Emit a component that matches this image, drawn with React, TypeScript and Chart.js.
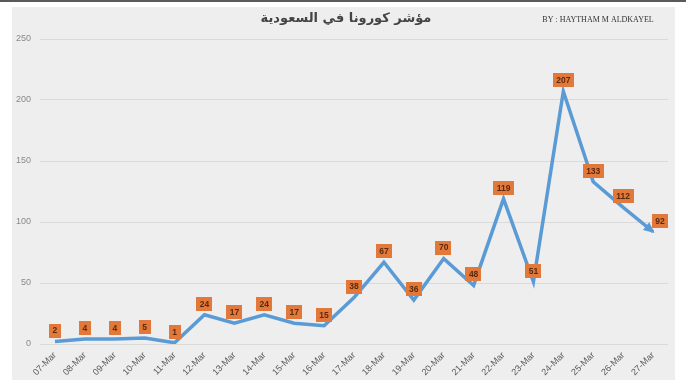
import React, { useEffect, useRef } from "react";
import { Chart, registerables } from "chart.js";

Chart.register(...registerables);

const categories = [
  "07-Mar", "08-Mar", "09-Mar", "10-Mar", "11-Mar", "12-Mar", "13-Mar",
  "14-Mar", "15-Mar", "16-Mar", "17-Mar", "18-Mar", "19-Mar", "20-Mar",
  "21-Mar", "22-Mar", "23-Mar", "24-Mar", "25-Mar", "26-Mar", "27-Mar",
];
const cases = [2, 4, 4, 5, 1, 24, 17, 24, 17, 15, 38, 67, 36, 70, 48, 119, 51, 207, 133, 112, 92];
const yTicks = [0, 50, 100, 150, 200, 250];
const titleText = "مؤشر كورونا في السعودية";
const authorText = "BY : HAYTHAM M ALDKAYEL";

const LINE_COLOR = "#5b9bd5";
const LABEL_BG = "#e2793a";
const LABEL_FG = "#5a2a0c";

const panelPlugin = {
  id: "panel",
  beforeDraw(chart: any) {
    const ctx = chart.ctx;
    ctx.save();
    ctx.fillStyle = "#ffffff";
    ctx.fillRect(0, 0, chart.width, chart.height);
    ctx.fillStyle = "#5a5a5a";
    ctx.fillRect(0, 0, chart.width, 2);
    ctx.fillStyle = "#eeeeee";
    ctx.fillRect(12, 7, 663, 373);
    ctx.restore();
  },
};

const labelsPlugin = {
  id: "boxLabels",
  afterDatasetsDraw(chart: any) {
    const ctx = chart.ctx;
    const meta = chart.getDatasetMeta(0);
    const pts = meta.data;
    ctx.save();
    const n = pts.length;
    if (n > 1) {
      const a = pts[n - 2];
      const b = pts[n - 1];
      const ang = Math.atan2(b.y - a.y, b.x - a.x);
      const L = 9;
      const W = 5;
      ctx.fillStyle = LINE_COLOR;
      ctx.beginPath();
      ctx.moveTo(b.x + Math.cos(ang) * 2, b.y + Math.sin(ang) * 2);
      ctx.lineTo(
        b.x - Math.cos(ang) * L + Math.cos(ang + Math.PI / 2) * W,
        b.y - Math.sin(ang) * L + Math.sin(ang + Math.PI / 2) * W
      );
      ctx.lineTo(
        b.x - Math.cos(ang) * L - Math.cos(ang + Math.PI / 2) * W,
        b.y - Math.sin(ang) * L - Math.sin(ang + Math.PI / 2) * W
      );
      ctx.closePath();
      ctx.fill();
    }
    ctx.font = "bold 8.5px 'Liberation Sans', sans-serif";
    ctx.textAlign = "center";
    ctx.textBaseline = "middle";
    pts.forEach((p: any, i: number) => {
      const txt = String(cases[i]);
      const w = ctx.measureText(txt).width + 7;
      const h = 14;
      let cx = p.x;
      let cy = p.y - 11;
      if (i === n - 1) {
        cx = p.x + 7;
      }
      ctx.fillStyle = LABEL_BG;
      ctx.fillRect(Math.round(cx - w / 2), Math.round(cy - h / 2), Math.round(w), h);
      ctx.fillStyle = LABEL_FG;
      ctx.fillText(txt, cx, cy + 0.5);
    });
    ctx.restore();
  },
};

const titlePlugin = {
  id: "titles",
  afterDraw(chart: any) {
    const ctx = chart.ctx;
    ctx.save();
    ctx.fillStyle = "#444444";
    ctx.textAlign = "center";
    ctx.textBaseline = "middle";
    ctx.font = "bold 13px 'DejaVu Sans', sans-serif";
    ctx.fillText(titleText, 346, 19);
    ctx.font = "8px 'Liberation Serif', serif";
    ctx.fillStyle = "#333333";
    ctx.fillText(authorText, 598, 20);
    ctx.restore();
  },
};

export default function App() {
  const ref = useRef<HTMLCanvasElement | null>(null);
  useEffect(() => {
    if (!ref.current) return;
    const chart = new Chart(ref.current, {
      type: "line",
      data: {
        labels: categories,
        datasets: [
          {
            data: cases,
            borderColor: LINE_COLOR,
            borderWidth: 3.5,
            pointRadius: 0,
            tension: 0,
            fill: false,
            borderJoinStyle: "miter",
          },
        ],
      },
      options: {
        animation: false,
        responsive: false,
        maintainAspectRatio: false,
        layout: { padding: { left: 12, right: 18, top: 39, bottom: 0 } },
        plugins: {
          legend: { display: false },
          tooltip: { enabled: false },
          title: { display: false },
        },
        scales: {
          x: {
            type: "category",
            offset: true,
            grid: { display: false, drawTicks: false },
            border: { display: false },
            ticks: {
              minRotation: 45,
              maxRotation: 45,
              autoSkip: false,
              padding: 6,
              color: "#595959",
              font: { size: 9, family: "'Liberation Sans', sans-serif" },
            },
            afterFit: (s: any) => {
              s.height = 42;
            },
          },
          y: {
            min: 0,
            max: 250,
            afterBuildTicks: (s: any) => {
              s.ticks = yTicks.map((v) => ({ value: v }));
            },
            grid: { color: "#dadada", lineWidth: 1, drawTicks: false },
            border: { display: false },
            ticks: {
              padding: 9,
              color: "#8a8a8a",
              font: { size: 9, family: "'Liberation Sans', sans-serif" },
            },
            afterFit: (s: any) => {
              s.width = 28;
            },
          },
        },
      },
      plugins: [panelPlugin, labelsPlugin, titlePlugin],
    });
    return () => chart.destroy();
  }, []);
  return (
    <div style={{ position: "fixed", left: 0, top: 0, width: 686, height: 386 }}>
      <canvas ref={ref} width={686} height={386} style={{ display: "block" }} />
    </div>
  );
}
